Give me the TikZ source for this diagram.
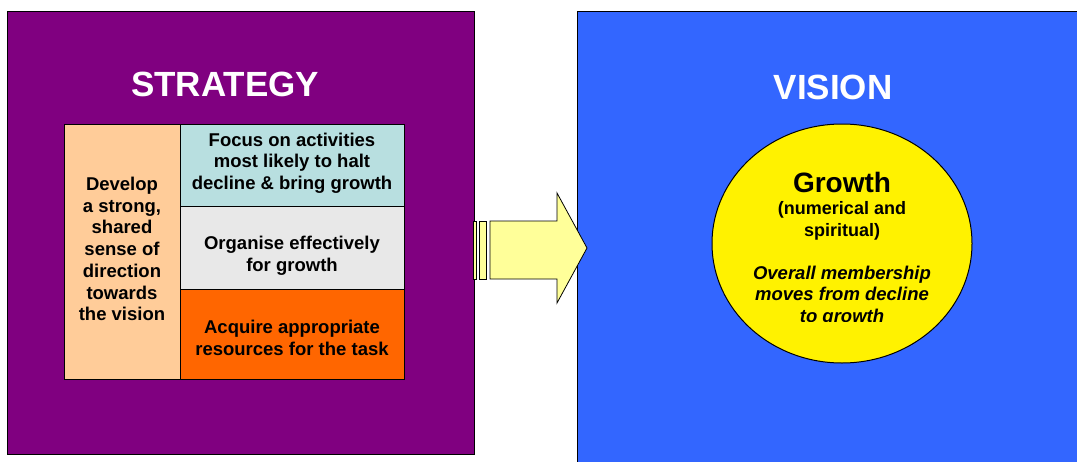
\documentclass[tikz,border=0pt]{standalone}
\usepackage{fontspec}
\setmainfont{Liberation Sans}
\usetikzlibrary{shapes.geometric}

\definecolor{stratpurple}{HTML}{800080}
\definecolor{visionblue}{HTML}{3366FF}
\definecolor{peach}{HTML}{FFCC99}
\definecolor{paleteal}{HTML}{B8DFE0}
\definecolor{palegrey}{HTML}{E8E8E8}
\definecolor{deeporange}{HTML}{FF6600}
\definecolor{paleyellow}{HTML}{FFFF99}

\tikzset{
  bigbox/.style={draw=black, line width=1pt, anchor=north west, inner sep=0pt},
  cell/.style={draw=black, line width=1.3pt, anchor=north west, inner sep=0pt},
  celltext/.style={align=center, inner sep=0pt, font=\bfseries\fontsize{18.5}{21.7}\selectfont},
  heading/.style={text=white, font=\bfseries\fontsize{35}{40}\selectfont},
}

\begin{document}
\begin{tikzpicture}[x=1pt, y=-1pt]
% page frame, everything is measured in pixels from the top left corner
\clip (0,0) rectangle (1077,461);
\fill[white] (0,0) rectangle (1077,461);

% the two large panels
\node[bigbox, fill=stratpurple, minimum width=467pt, minimum height=443pt] (strategy) at (7,11) {};
\node[bigbox, fill=visionblue, minimum width=520pt, minimum height=470pt] (vision) at (577,11) {};
\node[heading] (strathead) at (225,84) {STRATEGY};
\node[heading] (visionhead) at (833,87) {VISION};

% the grid of boxes inside the strategy panel
\node[cell, fill=peach, minimum width=116pt, minimum height=255pt] (develop) at (64,124) {};
\node[cell, fill=paleteal, minimum width=224pt, minimum height=82pt] (focus) at (180,124) {};
\node[cell, fill=palegrey, minimum width=224pt, minimum height=83pt] (organise) at (180,206) {};
\node[cell, fill=deeporange, minimum width=224pt, minimum height=90pt] (acquire) at (180,289) {};
\node[celltext] (developtext) at (122,249)
  {Develop\\a strong,\\shared\\sense of\\direction\\towards\\the vision};
\node[celltext] (focustext) at (292,163)
  {Focus on activities\\most likely to halt\\decline \& bring growth};
\node[celltext] (organisetext) at (292,256) {Organise effectively\\for growth};
\node[celltext] (acquiretext) at (292,338) {Acquire appropriate\\resources for the task};

% block arrow from strategy to vision
\draw[fill=paleyellow, line width=0.8pt] (473,221) rectangle (476,279);
\draw[fill=paleyellow, line width=0.8pt] (479,221) rectangle (486,279);
\draw[fill=paleyellow, line width=0.8pt] (490,221) -- (557,221) -- (557,193)
  -- (587,248) -- (557,303) -- (557,279) -- (490,279) -- cycle;

% the vision itself
\node[ellipse, draw=black, line width=1pt, fill=yellow, minimum width=260pt,
  minimum height=239pt, inner sep=0pt] (growth) at (842,243.5) {};
\node[font=\bfseries\fontsize{28}{32}\selectfont] (growthtitle) at (842,182) {Growth};
\node[align=center, font=\bfseries\fontsize{18}{22}\selectfont] (growthsub) at (842,221)
  {(numerical and\\spiritual)};
\begin{scope}
  \clip (700,124) rectangle (990,321);
  \node[align=center, font=\bfseries\itshape\fontsize{18.5}{21.7}\selectfont] (growthnote) at (842,296)
    {Overall membership\\moves from decline\\to growth};
\end{scope}
\end{tikzpicture}
\end{document}
